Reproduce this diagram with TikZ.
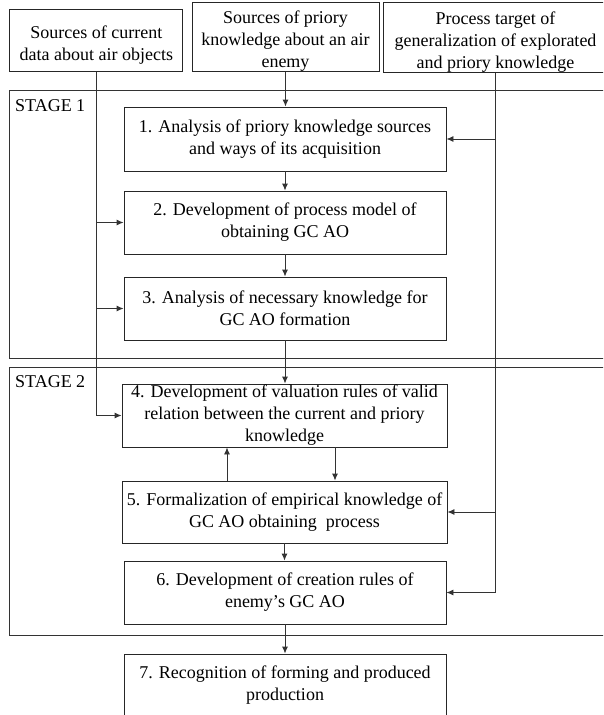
\documentclass[tikz,border=0pt]{standalone}
\usepackage{fontspec}
\setmainfont{Liberation Serif}
\usetikzlibrary{arrows.meta}
\begin{document}
\begin{tikzpicture}[x=1pt,y=-1pt,
  txt/.style={font=\fontsize{18}{22}\selectfont},
  box/.style={draw=black!85, line width=0.9pt, inner sep=0pt, align=center, txt},
  ln/.style={draw=black!80, line width=0.9pt},
  arr/.style={ln, -{Latex[length=7pt,width=6pt]}}]
\path[use as bounding box, clip] (0,0) rectangle (603,715);
\fill[white] (0,0) rectangle (603,715);
% source boxes
\node[box, minimum width=173pt, minimum height=62pt] (a) at (96.3,40.2) {\rule{0pt}{23pt}Sources of current\\data about air objects};
\node[box, minimum width=187pt, minimum height=68pt] (b) at (285.5,37.2) {\rule{0pt}{21pt}Sources of priory\\knowledge about an air\\enemy};
\node[box, minimum width=225pt, minimum height=68pt] (c) at (495.5,37.2) {\rule{0pt}{22pt}Process target of\\generalization of explorated\\and priory knowledge};
% stage frames
\draw[ln] (9.6,90.7) rectangle (612,358);
\draw[ln] (9.6,367) rectangle (612,635);
\node[txt, anchor=west, inner sep=0pt] (st1) at (15,106) {STAGE 1};
\node[txt, anchor=west, inner sep=0pt] (st2) at (15,382) {STAGE 2};
% steps
\node[box, minimum width=322pt, minimum height=64pt] (n1) at (285,139) {1. Analysis of priory knowledge sources\\and ways of its acquisition};
\node[box, minimum width=322pt, minimum height=63pt] (n2) at (285,222.5) {2. Development of process model of\\obtaining GC AO};
\node[box, minimum width=322pt, minimum height=63pt] (n3) at (285,308.5) {3. Analysis of necessary knowledge for\\GC AO formation};
\node[box, minimum width=325pt, minimum height=63pt] (n4) at (284.5,415.5) {4. Development of valuation rules of valid\\relation between the current and priory\\knowledge};
\node[box, minimum width=325pt, minimum height=62pt] (n5) at (284.5,512) {5. Formalization of empirical knowledge of\\GC AO obtaining\ \ process};
\node[box, minimum width=322pt, minimum height=63pt] (n6) at (285,592.5) {6. Development of creation rules of\\enemy’s GC AO};
\node[box, minimum width=322pt, minimum height=63pt] (n7) at (285,685.5) {7. Recognition of forming and produced\\production};
% connectors
\draw[arr] (b.south) -- (b.south |- n1.north);
\draw[arr] (n1) -- (n2);
\draw[arr] (n2) -- (n3);
\draw[arr] (n3.south) -- (n3.south |- n4.north);
\coordinate (u) at (227,0);
\coordinate (d) at (335,0);
\draw[arr] (n5.north -| u) -- (n4.south -| u);
\draw[arr] (n4.south -| d) -- (n5.north -| d);
\draw[arr] (n5.south) -- (n5.south |- n6.north);
\draw[arr] (n6) -- (n7);
% current data line
\draw[arr] (a.south) |- (n4.west);
\draw[arr] (a.south |- n2.west) -- (n2.west);
\draw[arr] (a.south |- n3.west) -- (n3.west);
% target line
\draw[arr] (c.south) |- (n6.east);
\draw[arr] (c.south |- n1.east) -- (n1.east);
\draw[arr] (c.south |- n5.east) -- (n5.east);
\end{tikzpicture}
\end{document}
